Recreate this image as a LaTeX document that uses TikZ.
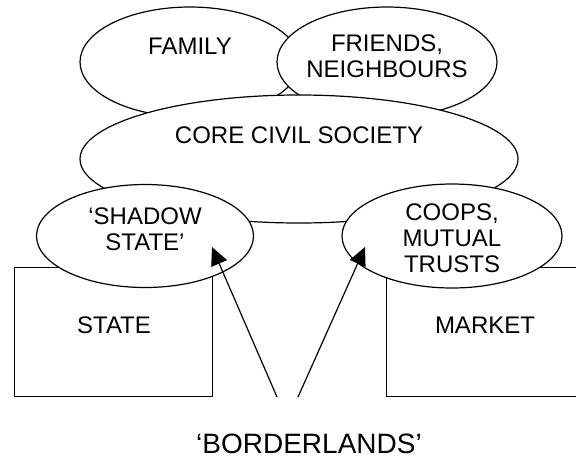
\documentclass[tikz,border=0pt]{standalone}
\usepackage{fontspec}
\setmainfont{Liberation Sans}
\usetikzlibrary{shapes.geometric,arrows.meta}

\begin{document}
\begin{tikzpicture}[x=0.5pt,y=-0.5pt,line width=0.6pt,
    bubble/.style={draw,ellipse,fill=white,inner sep=0pt},
    sector/.style={draw,fill=white,inner sep=0pt,anchor=north west,minimum height=64.5pt},
    label text/.style={font=\fontsize{12}{13}\selectfont,align=center,inner sep=0pt},
    push/.style={-{Triangle[length=9pt,width=8.5pt]}}]
        \useasboundingbox (0,0) rectangle (576,456);

        % Circulos de arriba
        \node[bubble,minimum width=110pt,minimum height=55pt] (family) at (190,62) {};
        \node[bubble,minimum width=110pt,minimum height=55pt] (friends) at (387,62) {};
        \node[bubble,minimum width=219pt,minimum height=64pt] (core) at (299,159) {};

        % Estado y mercado
        \node[sector,minimum width=99pt] (state) at (14,267) {};
        \node[sector,minimum width=110pt] (market) at (386,267) {};

        % Circulos de abajo
        \node[bubble,minimum width=108.5pt,minimum height=51.5pt] (shadow) at (145,236) {};
        \node[bubble,minimum width=110pt,minimum height=52pt] (coops) at (452,236) {};

        % Textos
        \node[label text,anchor=base] (familytxt) at (190,54.6) {FAMILY};
        \node[label text] (friendstxt) at (387,56.5) {FRIENDS,\\NEIGHBOURS};
        \node[label text,anchor=base] (coretxt) at (299,143.6) {CORE CIVIL SOCIETY};
        \node[label text] (shadowtxt) at (145,229.5) {‘SHADOW\\STATE’};
        \node[label text] (coopstxt) at (452,238) {COOPS,\\MUTUAL\\TRUSTS};
        \node[label text,anchor=base] (statetxt) at (114,333.6) {STATE};
        \node[label text,anchor=base] (markettxt) at (485,333.6) {MARKET};
        \node[label text,font=\fontsize{14}{16}\selectfont,anchor=base] (border) at (309,453) {‘BORDERLANDS’};

        % Flechas
        \coordinate (tailL) at (277,397);
        \coordinate (tipL) at (212,247);
        \coordinate (tailR) at (298,397);
        \coordinate (tipR) at (365,247);
        \draw[push] (tailL) -- (tipL);
        \draw[push] (tailR) -- (tipR);
    \end{tikzpicture}
\end{document}
